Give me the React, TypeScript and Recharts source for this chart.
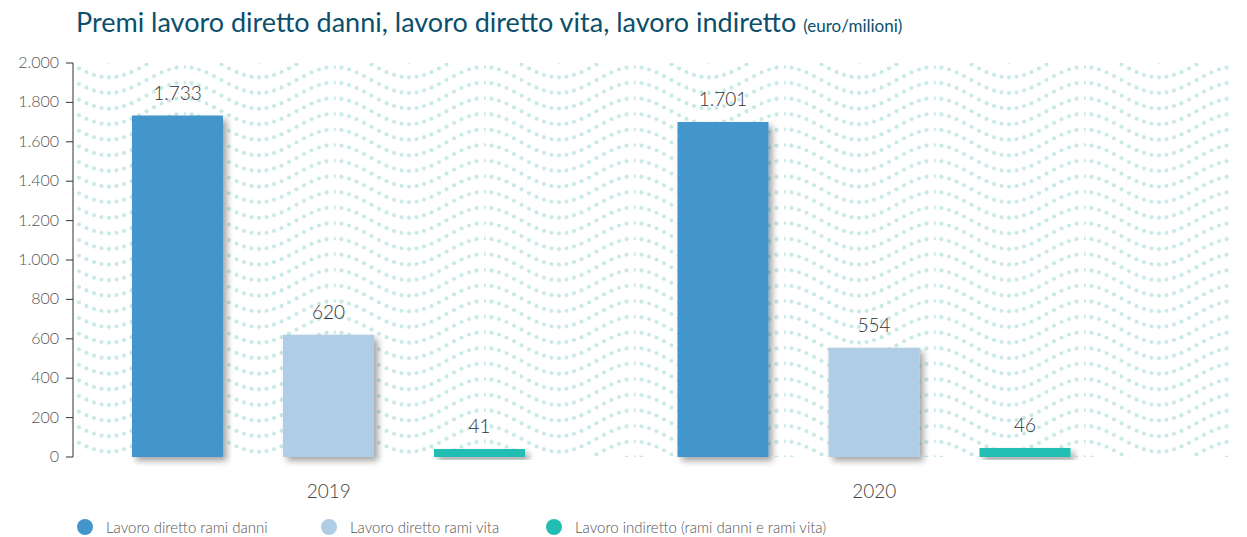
import React from 'react';
import { BarChart, Bar, XAxis, YAxis, CartesianGrid, LabelList } from 'recharts';

const years = ['2019', '2020'];
const danni = [1733, 1701];
const vita = [620, 554];
const indiretto = [41, 46];
const yTicks = [0, 200, 400, 600, 800, 1000, 1200, 1400, 1600, 1800, 2000];
const seriesNames = [
  'Lavoro diretto rami danni',
  'Lavoro diretto rami vita',
  'Lavoro indiretto (rami danni e rami vita)',
];
const seriesKeys = ['danni', 'vita', 'indiretto'];
const seriesColors = ['#4296cb', '#afcde5', '#22bdb3'];

const data = years.map((y, i) => ({ year: y, danni: danni[i], vita: vita[i], indiretto: indiretto[i] }));

const fmt = (v: number) => String(v).replace(/\B(?=(\d{3})+(?!\d))/g, '.');

const FONT = 'Lato, "Open Sans", sans-serif';

function WavePattern() {
  const W = 150;
  const H = 15.6;
  const A = 13;
  const N = 20;
  const dots: React.ReactNode[] = [];
  for (let i = 0; i < N; i++) {
    const x = (i * W) / N;
    const y = A - A * Math.cos((2 * Math.PI * x) / W);
    for (let k = -4; k <= 4; k++) {
      const yy = y + k * H;
      if (yy > -3 && yy < H + 3) {
        dots.push(<circle key={i + '_' + k} cx={x} cy={yy} r={2} fill="#c6e8e6" />);
      }
    }
  }
  return (
    <svg width={0} height={0} style={{ position: 'absolute' }}>
      <defs>
        <pattern id="waves" patternUnits="userSpaceOnUse" width={W} height={H} x={34} y={67 % H}>
          {dots}
        </pattern>
        <filter id="shadow" x="-20%" y="-20%" width="150%" height="150%">
          <feDropShadow dx="4" dy="4" stdDeviation="3" floodColor="#000" floodOpacity="0.35" />
        </filter>
      </defs>
    </svg>
  );
}

const legendLefts = [77, 321, 546];

function LegendBlock() {
  return (
    <div style={{ position: 'absolute', left: 0, top: 518, height: 20, width: 1247 }}>
      {seriesNames.map((n, i) => (
        <div key={n} style={{ position: 'absolute', left: legendLefts[i], top: 0, display: 'flex', alignItems: 'center' }}>
          <span style={{ display: 'inline-block', width: 16, height: 16, borderRadius: 8, background: seriesColors[i], marginRight: 13 }} />
          <span style={{ fontFamily: FONT, fontSize: 15, color: '#555', fontWeight: 300 }}>{n}</span>
        </div>
      ))}
    </div>
  );
}

function XTick(props: any) {
  const { x, y, payload } = props;
  return (
    <text x={x} y={y + 33} textAnchor="middle" fontFamily={FONT} fontSize={19} fontWeight={300} fill="#444">
      {payload.value}
    </text>
  );
}

function YTick(props: any) {
  const { x, y, payload } = props;
  return (
    <text x={x - 5} y={y + 5} textAnchor="end" fontFamily={FONT} fontSize={16} fontWeight={300} fill="#555">
      {fmt(payload.value)}
    </text>
  );
}

export default function App() {
  return (
    <div style={{ position: 'absolute', left: 0, top: 0, width: 1247, height: 537, background: '#fff' }}>
      <WavePattern />
      <div style={{ position: 'absolute', left: 76, top: 5, whiteSpace: 'nowrap', color: '#0b4f6c', fontFamily: FONT, fontSize: 27, fontWeight: 400 }}>
        Premi lavoro diretto danni, lavoro diretto vita, lavoro indiretto{' '}
        <span style={{ fontSize: 17 }}>(euro/milioni)</span>
      </div>
      <BarChart
        width={1247}
        height={537}
        data={data}
        margin={{ top: 63, right: 15, bottom: 0, left: 0 }}
        barSize={91}
        barGap={60}
      >
        <CartesianGrid horizontal={false} vertical={false} fill="url(#waves)" stroke="none" />
        <XAxis
          dataKey="year"
          axisLine={false}
          tickLine={false}
          tick={<XTick />}
          padding={{ left: -17, right: 85 }}
          height={80}
        />
        <YAxis
          domain={[0, 2000]}
          ticks={yTicks}
          width={73}
          axisLine={{ stroke: '#333', strokeWidth: 1 }}
          tickLine={{ stroke: '#333', strokeWidth: 1 }}
          tickSize={7}
          tick={<YTick />}
          interval={0}
        />
        {seriesKeys.map((k, i) => (
          <Bar key={k} dataKey={k} name={seriesNames[i]} fill={seriesColors[i]} isAnimationActive={false} filter="url(#shadow)">
            <LabelList
              dataKey={k}
              position="top"
              offset={16}
              formatter={(v: any) => fmt(v)}
              style={{ fontFamily: FONT, fontSize: 19, fontWeight: 300, fill: '#333' }}
            />
          </Bar>
        ))}
      </BarChart>
      <LegendBlock />
    </div>
  );
}
